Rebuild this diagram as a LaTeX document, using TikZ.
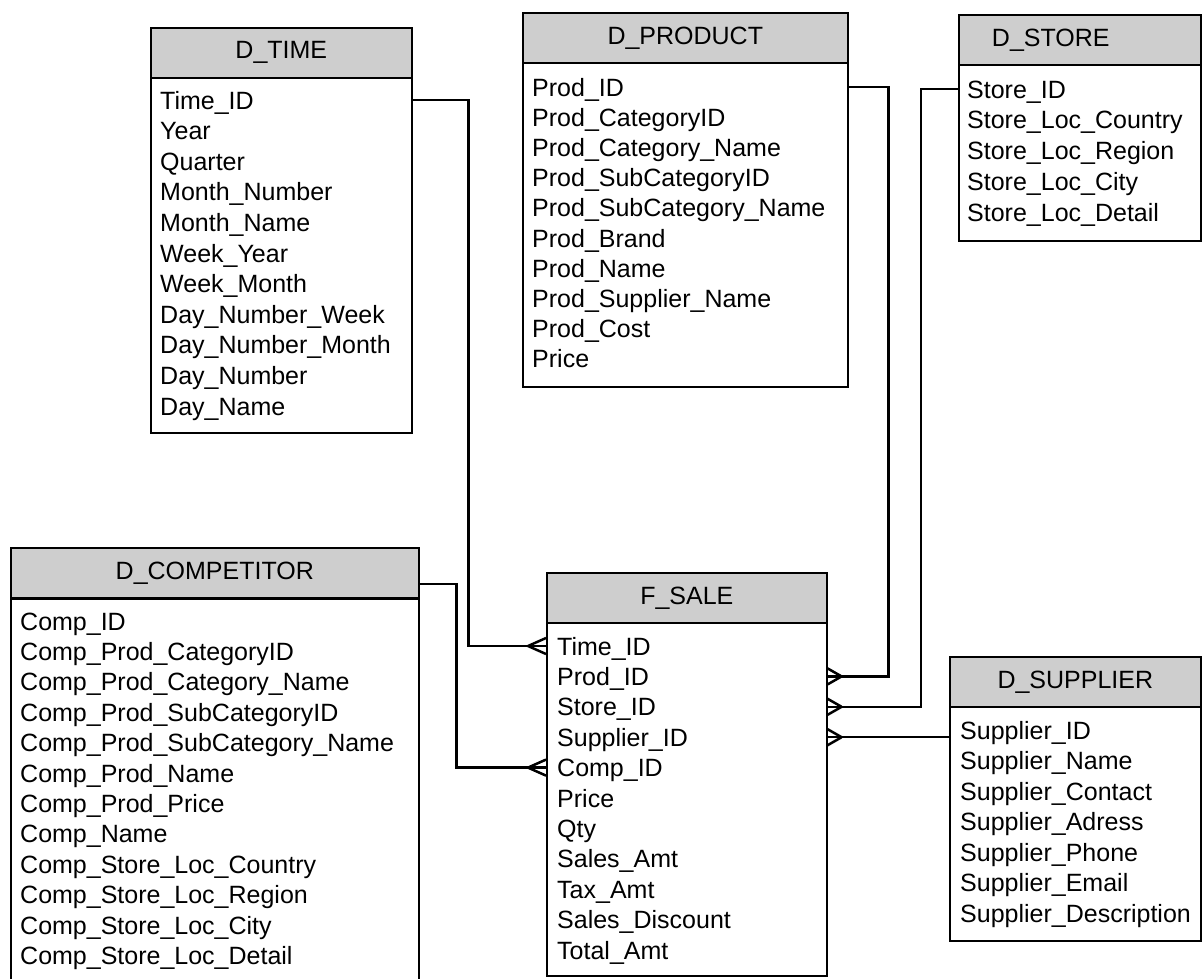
\documentclass[tikz,border=0pt]{standalone}
\usepackage{fontspec}
\setmainfont{Liberation Sans}
\definecolor{headgray}{RGB}{206,206,206}
% crow's foot at a table edge, #2 = offset of the apex
\newcommand{\crowfoot}[2]{%
  \draw[link] (#1) ++(#2,0) -- ++({-1*(#2)},8) (#1) ++(#2,0) -- ++({-1*(#2)},-8);}
\begin{document}
\begin{tikzpicture}[x=1pt, y=-1pt,
		head/.style={draw, fill=headgray, line width=1.6pt, anchor=north west, minimum height=50pt, inner sep=0pt},
		body/.style={draw, line width=1.6pt, anchor=north west, inner sep=0pt},
		field/.style={anchor=west, inner sep=0pt, text height=18pt, text depth=0pt},
		link/.style={line width=2.5pt}]
	\useasboundingbox (0,0) rectangle (1202,978);
	\fontsize{25}{30}\selectfont
	% D_TIME
	\node[body, minimum width=261pt, minimum height=356pt] (time) at (150,76) {};
	\node[head, minimum width=261pt] (time-h) at (150,27) {D\_TIME};
	\foreach \f [count=\i] in {Time\_ID, Year, Quarter, Month\_Number, Month\_Name, Week\_Year,
	    Week\_Month, Day\_Number\_Week, Day\_Number\_Month, Day\_Number, Day\_Name}
	    \node[field] (time-\i) at (160, {100+(\i-1)*30.6}) {\f};
	% D_PRODUCT
	\node[body, minimum width=325pt, minimum height=324pt] (prod) at (522,62) {};
	\node[head, minimum width=325pt] (prod-h) at (522,12) {D\_PRODUCT};
	\foreach \f [count=\i] in {Prod\_ID, Prod\_CategoryID, Prod\_Category\_Name, Prod\_SubCategoryID,
	    Prod\_SubCategory\_Name, Prod\_Brand, Prod\_Name, Prod\_Supplier\_Name, Prod\_Cost, Price}
	    \node[field] (prod-\i) at (532, {87+(\i-1)*30.2}) {\f};
	% D_STORE
	\node[body, minimum width=242pt, minimum height=176pt] (store) at (958,64) {};
	\node[head, minimum width=242pt] (store-h) at (958,14) {};
	\node (store-t) at ([xshift=-29pt]store-h.center) {D\_STORE};
	\foreach \f [count=\i] in {Store\_ID, Store\_Loc\_Country, Store\_Loc\_Region, Store\_Loc\_City, Store\_Loc\_Detail}
	    \node[field] (store-\i) at (967, {89+(\i-1)*30.75}) {\f};
	% D_COMPETITOR
	\node[body, minimum width=408pt, minimum height=400pt] (comp) at (10,598) {};
	\node[head, minimum width=408pt] (comp-h) at (10,547) {D\_COMPETITOR};
	\foreach \f [count=\i] in {Comp\_ID, Comp\_Prod\_CategoryID, Comp\_Prod\_Category\_Name,
	    Comp\_Prod\_SubCategoryID, Comp\_Prod\_SubCategory\_Name, Comp\_Prod\_Name, Comp\_Prod\_Price,
	    Comp\_Name, Comp\_Store\_Loc\_Country, Comp\_Store\_Loc\_Region, Comp\_Store\_Loc\_City,
	    Comp\_Store\_Loc\_Detail}
	    \node[field] (comp-\i) at (20, {621+(\i-1)*30.4}) {\f};
	% F_SALE
	\node[body, minimum width=280pt, minimum height=353pt] (sale) at (546,622) {};
	\node[head, minimum width=280pt] (sale-h) at (546,572) {F\_SALE};
	\foreach \f [count=\i] in {Time\_ID, Prod\_ID, Store\_ID, Supplier\_ID, Comp\_ID, Price, Qty,
	    Sales\_Amt, Tax\_Amt, Sales\_Discount, Total\_Amt}
	    \node[field] (sale-\i) at (557, {646+(\i-1)*30.4}) {\f};
	% D_SUPPLIER
	\node[body, minimum width=251pt, minimum height=234pt] (supp) at (949,706) {};
	\node[head, minimum width=251pt] (supp-h) at (949,656) {D\_SUPPLIER};
	\foreach \f [count=\i] in {Supplier\_ID, Supplier\_Name, Supplier\_Contact, Supplier\_Adress,
	    Supplier\_Phone, Supplier\_Email, Supplier\_Description}
	    \node[field] (supp-\i) at (960, {730+(\i-1)*30.5}) {\f};
	% relations
	\draw[link] (time.east |- time-1) -- ++(56,0) |- (sale.west |- sale-1);
	\draw[link] ([yshift=-11pt]comp-h.east) -- ++(37,0) |- (sale.west |- sale-5);
	\draw[link] (prod.east |- prod-1) -- ++(40,0) |- (sale.east |- sale-2);
	\draw[link] (store.west |- store-1) -- ++(-37,0) |- (sale.east |- sale-3);
	\draw[link] (sale.east |- sale-4) -- (supp.west |- sale-4);
	\crowfoot{sale.west |- sale-1}{-18}
	\crowfoot{sale.west |- sale-5}{-18}
	\foreach \i in {2,3,4} {
	    \crowfoot{sale.east |- sale-\i}{14}
	}
\end{tikzpicture}
\end{document}
